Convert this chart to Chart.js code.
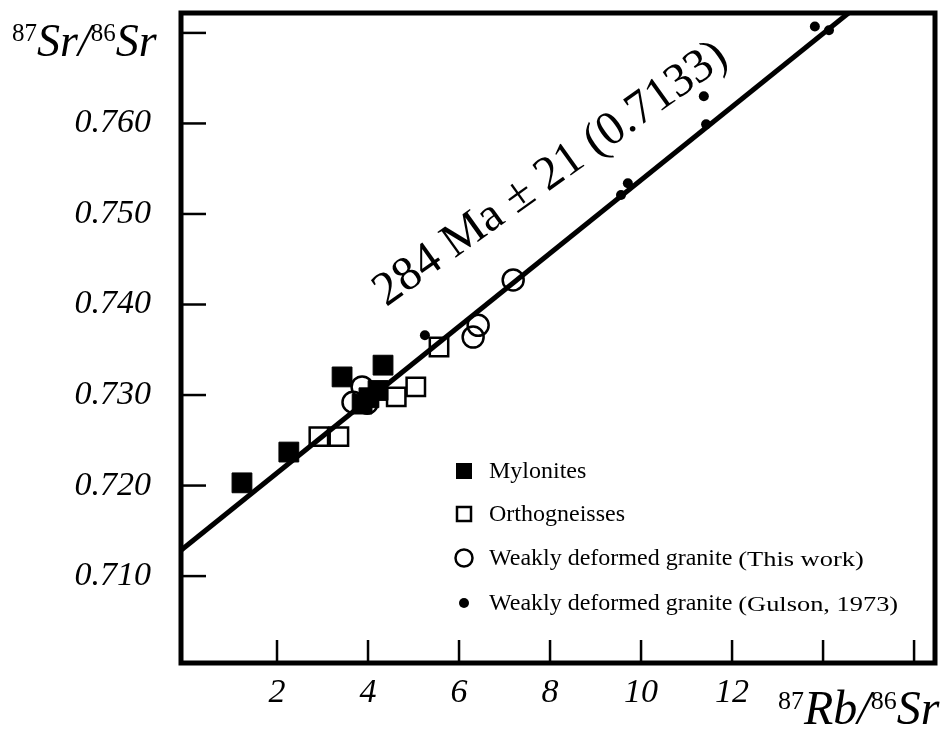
<!DOCTYPE html>
<html>
<head>
<meta charset="utf-8">
<script src="https://cdn.jsdelivr.net/npm/chart.js@4/dist/chart.umd.min.js"></script>
<style>
  html, body { margin: 0; padding: 0; background: #fff; overflow: hidden; }
  #wrap { width: 944px; height: 729px; }
  #isochron { display: block; width: 944px; height: 729px; }
</style>
</head>
<body>
<div id="wrap"><canvas id="isochron" width="944" height="729"></canvas></div>
<script>
// values
const mylonitesX = [1.23, 2.26, 3.43, 3.87, 4.02, 4.22, 4.33];
const mylonitesY = [0.7203, 0.7237, 0.7320, 0.7290, 0.7297, 0.7305, 0.7333];

const orthoX = [2.92, 3.36, 4.62, 5.05, 5.56];
const orthoY = [0.7254, 0.7254, 0.7298, 0.7309, 0.7353];

const thisWorkX = [3.67, 3.87, 3.98, 6.31, 6.42, 7.19];
const thisWorkY = [0.7292, 0.7309, 0.7291, 0.7364, 0.7377, 0.7427];

const gulsonX = [5.25, 9.56, 9.71, 11.38, 11.43, 13.82, 14.13];
const gulsonY = [0.7366, 0.7521, 0.7534, 0.7630, 0.7599, 0.7707, 0.7703];

// isochron: 284 Ma, initial ratio 0.7133
const isoIntercept = 0.7133;
const isoSlope = 0.004045;
const isoEndsX = [-0.5, 15.0];

const xTicks = [2, 4, 6, 8, 10, 12, 14, 16];
const xTickLabels = ['2', '4', '6', '8', '10', '12', '', ''];
const yTicks = [0.710, 0.720, 0.730, 0.740, 0.750, 0.760, 0.770];
const yTickLabels = ['0.710', '0.720', '0.730', '0.740', '0.750', '0.760', ''];

const legendLabels = ['Mylonites', 'Orthogneisses', 'Weakly deformed granite', 'Weakly deformed granite'];
const legendNotes = ['', '', '(This work)', '(Gulson, 1973)'];

function toPoints(xs, ys) {
    return xs.map(function(x, i) { return { x: x, y: ys[i] }; });
}

const serif = '"Liberation Serif", "DejaVu Serif", serif';

// draws a label like 87Sr/86Sr with small upright mass numbers
function drawIsotopeLabel(ctx, parts, x, y, big, small) {
    let cx = x;
    parts.forEach(function(p) {
        ctx.font = p.sup ? (small + 'px ' + serif) : ('italic ' + big + 'px ' + serif);
        const dy = p.sup ? -big * 0.32 : 0;
        ctx.fillText(p.t, cx, y + dy);
        cx += ctx.measureText(p.t).width;
    });
}

const framePlugin = {
    id: 'frame',
    afterDatasetsDraw: function(chart) {
        const ctx = chart.ctx;
        const area = chart.chartArea;
        const xs = chart.scales.x;
        const ys = chart.scales.y;

        ctx.save();
        ctx.strokeStyle = '#000';
        ctx.fillStyle = '#000';

        // inward ticks
        ctx.lineWidth = 2.5;
        yTicks.forEach(function(v) {
            const py = ys.getPixelForValue(v);
            ctx.beginPath();
            ctx.moveTo(area.left, py);
            ctx.lineTo(area.left + 25, py);
            ctx.stroke();
        });
        xTicks.forEach(function(v) {
            const px = xs.getPixelForValue(v);
            ctx.beginPath();
            ctx.moveTo(px, area.bottom);
            ctx.lineTo(px, area.bottom - 23);
            ctx.stroke();
        });

        // frame
        ctx.lineWidth = 5;
        ctx.strokeRect(area.left, area.top, area.right - area.left, area.bottom - area.top);

        // tick labels
        ctx.font = 'italic 34px ' + serif;
        ctx.textAlign = 'right';
        ctx.textBaseline = 'middle';
        yTicks.forEach(function(v, i) {
            ctx.fillText(yTickLabels[i], 151, ys.getPixelForValue(v));
        });
        ctx.textAlign = 'center';
        ctx.textBaseline = 'alphabetic';
        xTicks.forEach(function(v, i) {
            ctx.fillText(xTickLabels[i], xs.getPixelForValue(v), 702);
        });

        // axis titles
        ctx.textAlign = 'left';
        drawIsotopeLabel(ctx, [
            { t: '87', sup: true }, { t: 'Sr' }, { t: '/' }, { t: '86', sup: true }, { t: 'Sr' }
        ], 12, 56, 46, 25);
        drawIsotopeLabel(ctx, [
            { t: '87', sup: true }, { t: 'Rb' }, { t: '/' }, { t: '86', sup: true }, { t: 'Sr' }
        ], 778, 724, 48, 26);

        // isochron annotation
        ctx.save();
        ctx.translate(xs.getPixelForValue(4.4), ys.getPixelForValue(0.7397));
        ctx.rotate(-35.5 * Math.PI / 180);
        ctx.font = '48px ' + serif;
        ctx.fillText('284 Ma \u00b1 21 (0.7133)', 0, 0);
        ctx.restore();

        // legend
        const lx = 464, textX = 489;
        const rows = [471, 514, 558, 603];
        rows.forEach(function(ry, i) {
            ctx.lineWidth = 2.5;
            if (i === 0) {
                ctx.fillRect(lx - 8, ry - 8, 16, 16);
            } else if (i === 1) {
                ctx.strokeRect(lx - 7, ry - 7, 14, 14);
            } else if (i === 2) {
                ctx.beginPath();
                ctx.arc(lx, ry, 8.5, 0, Math.PI * 2);
                ctx.stroke();
            } else {
                ctx.beginPath();
                ctx.arc(lx, ry, 5, 0, Math.PI * 2);
                ctx.fill();
            }
            ctx.textBaseline = 'middle';
            ctx.font = '24px ' + serif;
            ctx.fillText(legendLabels[i], textX, ry + 1);
            if (legendNotes[i]) {
                const w = ctx.measureText(legendLabels[i] + ' ').width;
                // the source uses a narrower face set wider; stretch a little
                ctx.save();
                ctx.translate(textX + w, ry + 2);
                ctx.scale(1.2, 1);
                ctx.font = '22px ' + serif;
                ctx.fillText(legendNotes[i], 0, 0);
                ctx.restore();
            }
        });

        ctx.restore();
    }
};

const ctxIso = document.getElementById('isochron').getContext('2d');
const chartIso = new Chart(ctxIso, {
    type: 'scatter',
    data: {
        datasets: [{
            label: 'Isochron',
            data: isoEndsX.map(function(x) { return { x: x, y: isoIntercept + isoSlope * x }; }),
            showLine: true,
            borderColor: '#000',
            borderWidth: 5,
            pointRadius: 0
        }, {
            label: 'Mylonites',
            data: toPoints(mylonitesX, mylonitesY),
            pointStyle: 'rect',
            pointRadius: 14,
            backgroundColor: '#000',
            borderColor: '#000',
            borderWidth: 1
        }, {
            label: 'Orthogneisses',
            data: toPoints(orthoX, orthoY),
            pointStyle: 'rect',
            pointRadius: 13,
            backgroundColor: '#fff',
            borderColor: '#000',
            borderWidth: 2.5
        }, {
            label: 'Weakly deformed granite (This work)',
            data: toPoints(thisWorkX, thisWorkY),
            pointStyle: 'circle',
            pointRadius: 10.5,
            backgroundColor: 'rgba(255,255,255,0)',
            borderColor: '#000',
            borderWidth: 2.5
        }, {
            label: 'Weakly deformed granite (Gulson, 1973)',
            data: toPoints(gulsonX, gulsonY),
            pointStyle: 'circle',
            pointRadius: 5,
            backgroundColor: '#000',
            borderColor: '#000',
            borderWidth: 0
        }]
    },
    options: {
        responsive: false,
        animation: false,
        devicePixelRatio: 1,
        layout: {
            autoPadding: false,
            padding: { left: 181, right: 9, top: 13, bottom: 66 }
        },
        plugins: {
            legend: { display: false },
            tooltip: { enabled: false }
        },
        scales: {
            x: { type: 'linear', min: -0.11, max: 16.46, display: false },
            y: { type: 'linear', min: 0.7004, max: 0.7722, display: false }
        }
    },
    plugins: [framePlugin]
});
</script>
</body>
</html>
